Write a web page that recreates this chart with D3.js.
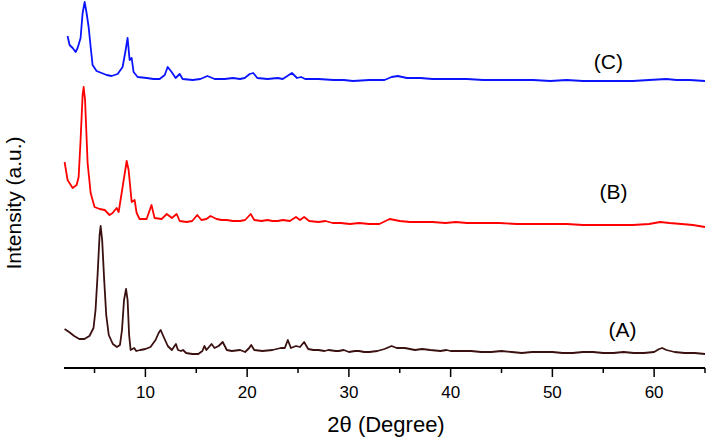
<!DOCTYPE html>
<html lang="en">
<head>
<meta charset="UTF-8">
<title>XRD patterns</title>
<script src="https://d3js.org/d3.v7.min.js"></script>
<style>
    body { margin: 0; background: #fff; }
    svg text { font-family: "Liberation Sans", Arial, sans-serif; fill: #000; }
</style>
</head>
<body>
<div id="chart"></div>
<script>
// 2theta ticks
const majorTicks = [10, 20, 30, 40, 50, 60];
const minorTicks = [5, 15, 25, 35, 45, 55, 65];

// trace labels and vertical offsets (a.u.)
const traceNames = ["(A)", "(B)", "(C)"];
const traceOffsets = [0, 125, 270];

// pattern A: [2theta, intensity]
const patternA = [
    [2.06, 39], [2.5, 36], [3.0, 32], [3.5, 29], [4.0, 29], [4.5, 32], [4.9, 40], [5.1, 58],
    [5.3, 93], [5.5, 133], [5.6, 142], [5.75, 128], [5.95, 88], [6.15, 53], [6.4, 33], [6.8, 24],
    [7.2, 21], [7.5, 23], [7.7, 38], [7.9, 68], [8.1, 79], [8.25, 68], [8.4, 33], [8.55, 18],
    [8.9, 20], [9.1, 17], [9.5, 18], [10.0, 19], [10.5, 21], [11.0, 28], [11.3, 35], [11.5, 38],
    [11.8, 31], [12.2, 22], [12.6, 18], [13.0, 24], [13.2, 18], [13.5, 17], [13.7, 18], [14.0, 15],
    [14.6, 14], [15.2, 14], [15.6, 17], [15.8, 22], [16.0, 18], [16.5, 24], [16.8, 20], [17.2, 22],
    [17.6, 26], [18.0, 18], [18.5, 17], [19.3, 18], [19.8, 16], [20.2, 20], [20.4, 23], [20.7, 18],
    [21.5, 17], [22.5, 18], [23.3, 20], [23.7, 20], [24.0, 28], [24.3, 20], [24.8, 22], [25.2, 21],
    [25.6, 26], [26.0, 19], [26.5, 18], [27, 18], [27.6, 17], [28, 18], [28.7, 17], [29, 17],
    [29.5, 18], [30, 16], [30.6, 17], [31, 17], [31.5, 16], [32, 16], [32.8, 17], [33.5, 19],
    [34.2, 22], [34.7, 20], [35.5, 20], [36.0, 19], [36.5, 18], [37.2, 19], [38, 18], [39, 17],
    [39.6, 18], [40, 17], [41, 17], [42, 17], [43, 16], [44, 16], [45, 17], [46, 16], [47, 15],
    [48, 16], [49, 16], [50, 16], [51, 15], [52, 15], [53, 16], [54, 16], [55, 15], [56, 15],
    [57, 16], [58, 15], [59, 15], [60, 16], [60.5, 19], [60.8, 20], [61.2, 18], [62, 16],
    [63, 15], [64, 15], [65, 14]
];

// pattern B
const patternB = [
    [2.06, 81], [2.35, 63], [2.85, 55], [3.24, 58], [3.44, 66], [3.63, 103], [3.83, 148], [3.93, 156],
    [4.07, 143], [4.32, 80], [4.62, 50], [5.0, 36], [5.5, 34], [6.0, 33], [6.48, 28], [6.78, 30],
    [7.17, 35], [7.37, 31], [7.76, 56], [8.16, 82], [8.35, 73], [8.65, 41], [8.94, 43], [9.14, 30],
    [9.43, 24], [10.12, 24], [10.6, 38], [10.9, 25], [11.6, 24], [12.1, 29], [12.6, 25], [13.07, 29],
    [13.37, 22], [14.05, 21], [14.6, 22], [15.1, 28], [15.5, 23], [16.0, 24], [16.4, 27], [17.0, 24],
    [17.5, 23], [18.0, 23], [18.6, 22], [19.3, 22], [19.8, 23], [20.35, 29], [20.7, 23], [21.4, 22],
    [22.0, 23], [22.5, 22], [23.0, 22], [23.5, 23], [24.2, 22], [24.8, 26], [25.2, 23], [25.6, 26],
    [26.1, 22], [27.0, 21], [27.7, 22], [28.4, 20], [29.2, 20], [30.1, 19], [31.0, 20], [32.0, 19],
    [33.0, 19], [34.0, 24], [35.0, 22], [36.0, 21], [37.0, 21], [38.2, 21], [39.5, 20], [40.5, 21],
    [41.6, 20], [43.0, 20], [44.8, 20], [46.5, 19], [48.1, 19], [49.8, 19], [51.4, 19], [53.0, 18],
    [54.7, 18], [56.3, 18], [57.9, 18], [59.5, 19], [60.6, 21], [61.5, 20], [62.7, 19], [63.8, 18],
    [65, 16]
];

// pattern C
const patternC = [
    [2.35, 62], [2.55, 53], [2.85, 50], [3.14, 46], [3.34, 50], [3.63, 60], [3.83, 85], [4.03, 96],
    [4.22, 85], [4.42, 71], [4.62, 51], [4.81, 33], [5.2, 27], [5.7, 25], [6.19, 23], [6.68, 22],
    [7.27, 24], [7.76, 31], [8.06, 48], [8.25, 60], [8.45, 38], [8.65, 40], [8.84, 26], [9.24, 21],
    [10.12, 20], [10.8, 19], [11.4, 19], [11.9, 23], [12.19, 31], [12.58, 26], [12.97, 20], [13.37, 24],
    [13.66, 19], [14.65, 18], [15.4, 19], [16.1, 22], [16.8, 19], [17.8, 19], [18.6, 20], [19.3, 19],
    [19.76, 20], [20.25, 24], [20.6, 25], [21.0, 20], [22.0, 19], [23.0, 20], [23.5, 19], [24.4, 25],
    [24.9, 20], [25.3, 21], [25.7, 19], [27.0, 19], [28.5, 18], [29.5, 18], [30.4, 17], [32.0, 18],
    [33.5, 18], [34.2, 21], [34.8, 22], [35.7, 20], [37.0, 20], [38.2, 19], [40.0, 19], [41.6, 19],
    [43.2, 18], [44.8, 18], [46.5, 18], [48.1, 18], [49.8, 17], [51.4, 18], [53.0, 17], [54.7, 17],
    [56.3, 17], [57.9, 17], [59.5, 18], [61.2, 19], [62.2, 18], [63.5, 18], [65, 17]
];

const patterns = [patternA, patternB, patternC];
const colors = ["#3a1010", "#ff0000", "#0a14ff"];

const W = 711, H = 440;
const svg = d3.select("#chart").append("svg")
    .attr("width", W)
    .attr("height", H);

const x = d3.scaleLinear().domain([2, 65]).range([64, 705]);
const y = d3.scaleLinear().domain([0, 368]).range([368, 0]);

// bottom axis
const axis = svg.append("g").attr("transform", "translate(0,368)");
axis.append("line")
    .attr("x1", x(2)).attr("x2", x(65))
    .attr("stroke", "#000").attr("stroke-width", 2);
axis.call(g => g.selectAll(".major").data(majorTicks).enter().append("line")
    .attr("x1", d => x(d)).attr("x2", d => x(d))
    .attr("y1", 0).attr("y2", 9)
    .attr("stroke", "#000").attr("stroke-width", 1.5));
axis.call(g => g.selectAll(".minor").data(minorTicks).enter().append("line")
    .attr("x1", d => x(d)).attr("x2", d => x(d))
    .attr("y1", 0).attr("y2", 5)
    .attr("stroke", "#000").attr("stroke-width", 1.5));
axis.selectAll(".lbl").data(majorTicks).enter().append("text")
    .attr("x", d => x(d))
    .attr("y", 30)
    .attr("text-anchor", "middle")
    .style("font-size", "17px")
    .text(d => d);

// traces
const line = d3.line()
    .x(d => x(d[0]))
    .y(d => y(d[1]));

patterns.forEach((p, i) => {
    svg.append("path")
        .datum(p.map(d => [d[0], d[1] + traceOffsets[i]]))
        .attr("fill", "none")
        .attr("stroke", colors[i])
        .attr("stroke-width", 1.8)
        .attr("stroke-linejoin", "round")
        .attr("d", line);
});

// trace labels
const labelPos = [[56.9, 337], [56.0, 199], [55.5, 69]];
traceNames.forEach((t, i) => {
    svg.append("text")
        .attr("x", x(labelPos[i][0]))
        .attr("y", labelPos[i][1])
        .attr("text-anchor", "middle")
        .style("font-size", "21px")
        .text(t);
});

// axis titles
svg.append("text")
    .attr("x", 386)
    .attr("y", 432)
    .attr("text-anchor", "middle")
    .style("font-size", "22px")
    .text("2\u03B8 (Degree)");

svg.append("text")
    .attr("transform", "translate(21,203) rotate(-90)")
    .attr("text-anchor", "middle")
    .style("font-size", "21px")
    .text("Intensity (a.u.)");
</script>
</body>
</html>
